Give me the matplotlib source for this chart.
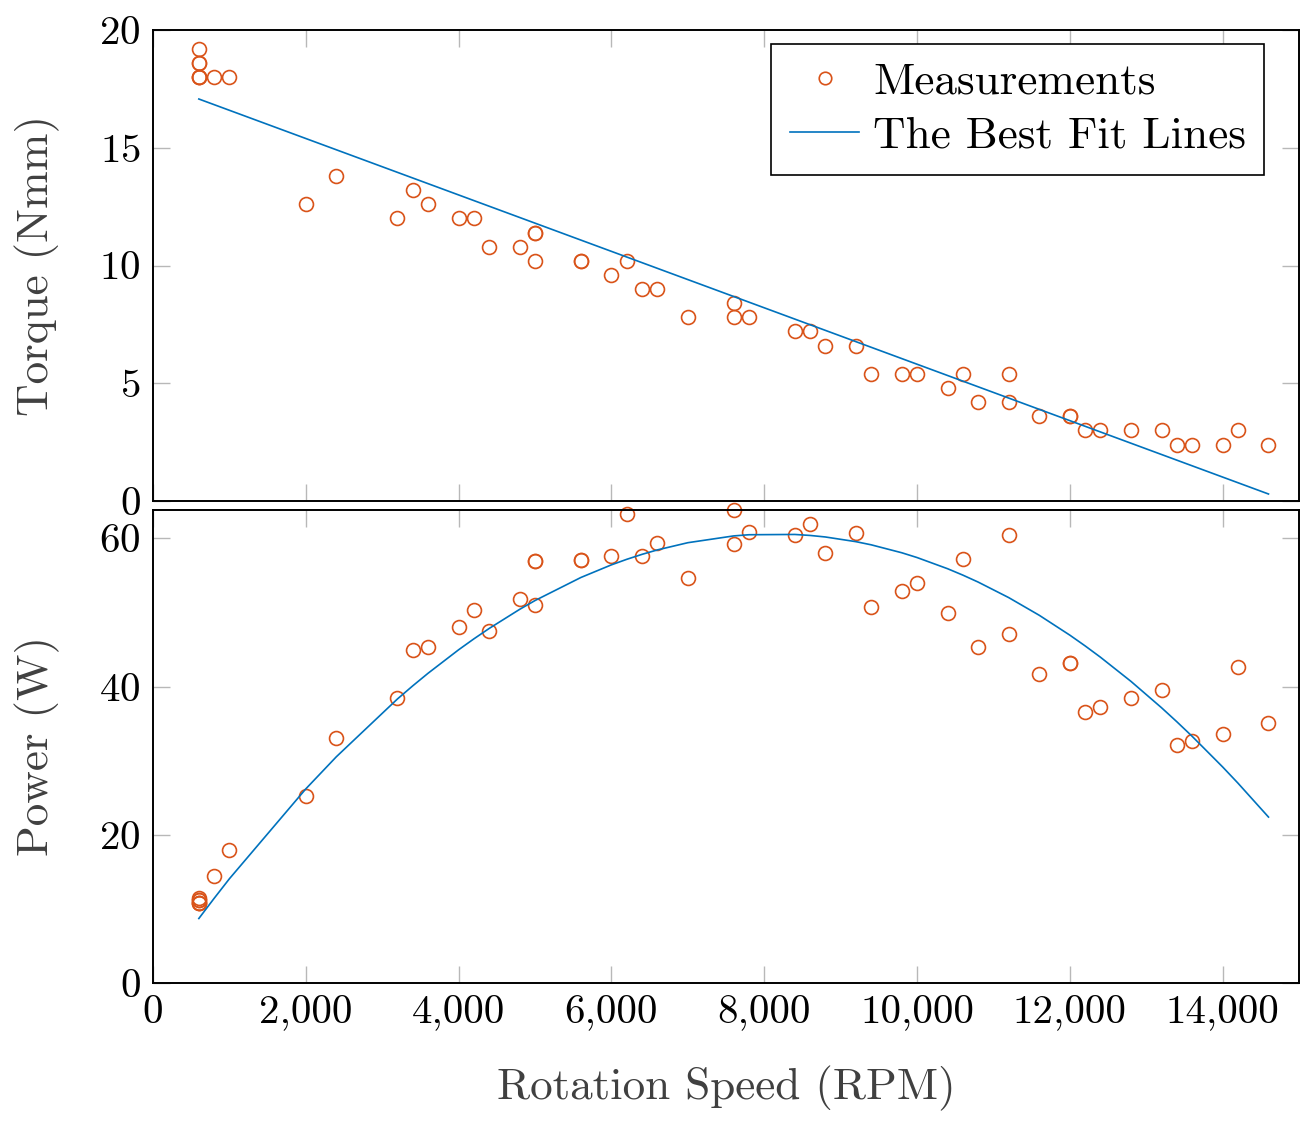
import matplotlib
matplotlib.use("Agg")
import matplotlib.pyplot as plt
import numpy as np
from matplotlib.ticker import FuncFormatter

# ===========================================================
# Données
# ===========================================================
rpm = [600, 600, 600, 600, 600, 600, 800, 1000, 2000, 2400, 3200, 3400, 3600,
       4000, 4200, 4400, 4800, 5000, 5000, 5000, 5600, 5600, 6000, 6200, 6400,
       6600, 7000, 7600, 7600, 7800, 8400, 8600, 8800, 9200, 9400, 9800, 10000,
       10400, 10600, 10800, 11200, 11200, 11600, 12000, 12000, 12200, 12400,
       12800, 13200, 13400, 13600, 14000, 14200, 14600]

torque = [19.2, 18.6, 18.6, 18.0, 18.0, 18.0, 18.0, 18.0, 12.6, 13.8, 12.0, 13.2,
          12.6, 12.0, 12.0, 10.8, 10.8, 11.4, 11.4, 10.2, 10.2, 10.2, 9.6, 10.2,
          9.0, 9.0, 7.8, 8.4, 7.8, 7.8, 7.2, 7.2, 6.6, 6.6, 5.4, 5.4, 5.4, 4.8,
          5.4, 4.2, 5.4, 4.2, 3.6, 3.6, 3.6, 3.0, 3.0, 3.0, 3.0, 2.4, 2.4, 2.4,
          3.0, 2.4]

power = [11.52, 11.16, 11.16, 10.8, 10.8, 10.8, 14.4, 18.0, 25.2, 33.12, 38.4,
         44.88, 45.36, 48.0, 50.4, 47.52, 51.84, 57.0, 57.0, 51.0, 57.12, 57.12,
         57.6, 63.24, 57.6, 59.4, 54.6, 63.84, 59.28, 60.84, 60.48, 61.92, 58.08,
         60.72, 50.76, 52.92, 54.0, 49.92, 57.24, 45.36, 60.48, 47.04, 41.76,
         43.2, 43.2, 36.6, 37.2, 38.4, 39.6, 32.16, 32.64, 33.6, 42.6, 35.04]

# Droites d'ajustement
fit_torque = [-0.001198, 17.79]          # pente, ordonnée à l'origine
fit_power_sommet = [8135, 60.6]          # RPM du sommet, puissance max
fit_power_courbure = 9.14e-7

x = np.array(rpm, dtype=float)
fit_t = np.polyval(fit_torque, x)
fit_p = fit_power_sommet[1] - fit_power_courbure * (x - fit_power_sommet[0]) ** 2

orange = "#D95319"
bleu = "#0072BD"
gris = "#404040"

plt.rcParams["font.family"] = "cmr10"
plt.rcParams["axes.formatter.use_mathtext"] = True
plt.rcParams["font.size"] = 29.5

fig = plt.figure(figsize=(13.01, 11.29), dpi=100)
ax1 = fig.add_axes([0.1176, 0.5562, 0.8809, 0.4172])
ax2 = fig.add_axes([0.1176, 0.1293, 0.8809, 0.4190])

virgule = FuncFormatter(lambda v, p: f"{v:,.0f}")

for ax in (ax1, ax2):
    ax.set_xlim(0, 15000)
    ax.set_xticks(np.arange(0, 14001, 2000))
    ax.tick_params(direction="in", length=12, width=1.0, color="#b8b8b8",
                   top=True, right=True, pad=9, labelsize=29.5)
    for s in ax.spines.values():
        s.set_linewidth(1.4)
    ax.xaxis.set_major_formatter(virgule)

# -----------------------------------------------------------
# Couple
# -----------------------------------------------------------
ax1.plot(x, torque, ls="none", marker="o", ms=10, mfc="none", mec=orange,
         mew=1.2, clip_on=False, label="Measurements")
ax1.plot(x, fit_t, color=bleu, lw=1.2, label="The Best Fit Lines")
ax1.set_ylim(0, 20)
ax1.set_yticks([0, 5, 10, 15, 20])
ax1.tick_params(labelbottom=False)
ax1.set_ylabel("Torque (Nmm)", color=gris, fontsize=32.5)
ax1.yaxis.set_label_coords(-0.081, 0.5)
leg = ax1.legend(loc="upper right", bbox_to_anchor=(0.9695, 0.9703),
                 fancybox=False, edgecolor="black", framealpha=1,
                 fontsize=32.5, markerscale=0.9, handlelength=1.55,
                 borderaxespad=0, borderpad=0.4, labelspacing=0.3,
                 handletextpad=0.3)
leg.get_frame().set_linewidth(1.2)

# -----------------------------------------------------------
# Puissance
# -----------------------------------------------------------
ax2.plot(x, power, ls="none", marker="o", ms=10, mfc="none", mec=orange,
         mew=1.2, clip_on=False)
ax2.plot(x, fit_p, color=bleu, lw=1.2)
ax2.set_ylim(0, max(power))
ax2.set_yticks([0, 20, 40, 60])
ax2.set_ylabel("Power (W)", color=gris, fontsize=32.5)
ax2.yaxis.set_label_coords(-0.081, 0.5)
ax2.set_xlabel("Rotation Speed (RPM)", color=gris, fontsize=32.5)
ax2.xaxis.set_label_coords(0.5, -0.175)

fig.savefig("out.png", dpi=100)
